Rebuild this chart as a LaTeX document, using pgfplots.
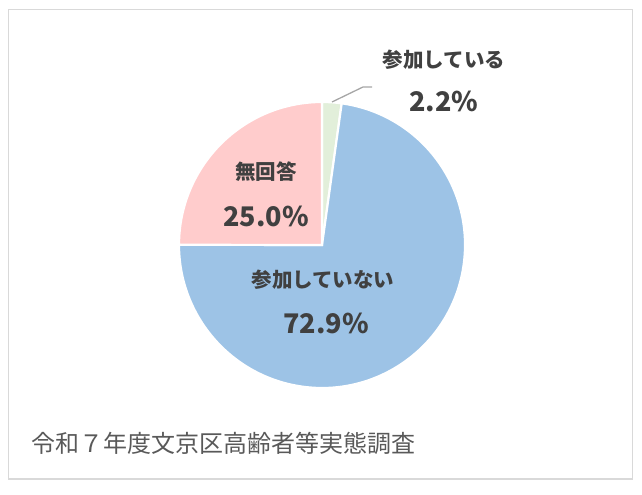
\documentclass[border=0pt]{standalone}
\usepackage{pgfplots}
\pgfplotsset{compat=1.18}
\usepackage{pgfplotstable}
\usepackage{fontspec}
\setmainfont{Noto Sans CJK JP}
\definecolor{cGreen}{HTML}{E2EFDA}
\definecolor{cBlue}{HTML}{9DC3E6}
\definecolor{cPink}{HTML}{FFCCCC}
\definecolor{cText}{HTML}{404040}
\definecolor{cCap}{HTML}{595959}
\definecolor{cFrame}{HTML}{D9D9D9}
\definecolor{cLead}{HTML}{A6A6A6}
\pgfplotstableread{
name value
yes 2.2
no 72.9
na 25.0
}\piedata
\begin{document}
\begin{tikzpicture}[x=1bp,y=1bp]
\path[use as bounding box] (0,0) rectangle (642,495);
\draw[cFrame,line width=1.3bp] (8.5,16) rectangle (632.5,485.5);
\pgfplotstablegetelem{0}{value}\of\piedata \let\va\pgfplotsretval
\pgfplotstablegetelem{1}{value}\of\piedata \let\vb\pgfplotsretval
\pgfplotstablegetelem{2}{value}\of\piedata \let\vc\pgfplotsretval
\pgfmathsetmacro\tot{\va+\vb+\vc}
\pgfmathsetmacro\aA{90}
\pgfmathsetmacro\aB{90-\va/\tot*360}
\pgfmathsetmacro\aC{\aB-\vb/\tot*360}
\pgfmathsetmacro\aD{\aC-\vc/\tot*360}
\begin{axis}[at={(0,0)},anchor=south west,scale only axis,width=642bp,height=495bp,
  xmin=0,xmax=642,ymin=0,ymax=495,hide axis,clip=false]
\fill[cGreen,draw=white,line width=2.2bp,line join=miter] (axis cs:322,250) -- ++(\aA:143bp) arc[start angle=\aA,end angle=\aB,radius=143bp] -- cycle;
\fill[cBlue,draw=white,line width=2.2bp,line join=miter] (axis cs:322,250) -- ++(\aB:143bp) arc[start angle=\aB,end angle=\aC,radius=143bp] -- cycle;
\fill[cPink,draw=white,line width=2.2bp,line join=miter] (axis cs:322,250) -- ++(\aC:143bp) arc[start angle=\aC,end angle=\aD,radius=143bp] -- cycle;
\draw[cLead,line width=1.3bp] (axis cs:332,393) -- (axis cs:363,408) -- (axis cs:372,408);
\node[cText,font=\fontsize{20.5bp}{24bp}\selectfont\bfseries] at (axis cs:444,435) {参加している};
\node[cText,font=\fontsize{27bp}{30bp}\selectfont\bfseries] at (axis cs:444,394) {2.2\%};
\node[cText,font=\fontsize{20.5bp}{24bp}\selectfont\bfseries] at (axis cs:266,323) {無回答};
\node[cText,font=\fontsize{27bp}{30bp}\selectfont\bfseries] at (axis cs:266,279) {25.0\%};
\node[cText,font=\fontsize{20.5bp}{24bp}\selectfont\bfseries] at (axis cs:323,215) {参加していない};
\node[cText,font=\fontsize{27bp}{30bp}\selectfont\bfseries] at (axis cs:326,172) {72.9\%};
\node[cCap,anchor=west,inner sep=0pt,font=\fontsize{24bp}{28bp}\selectfont] at (axis cs:31,52) {令和７年度文京区高齢者等実態調査};
\end{axis}
\end{tikzpicture}
\end{document}
